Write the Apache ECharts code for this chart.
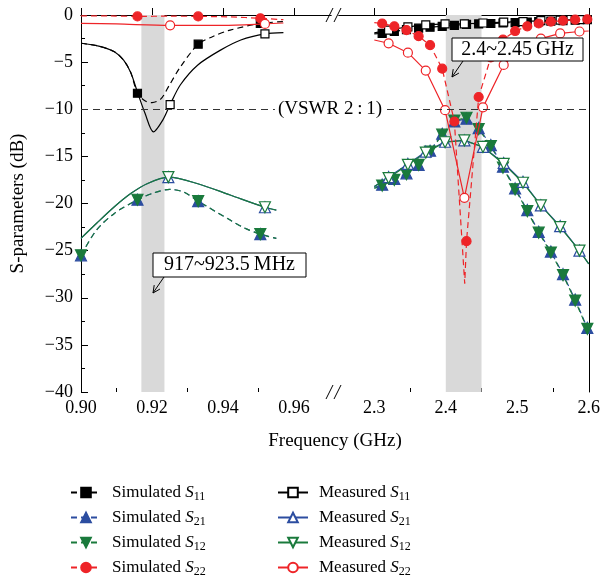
<!DOCTYPE html>
<html>
<head>
<meta charset="utf-8">
<script src="https://cdn.jsdelivr.net/npm/echarts@6/dist/echarts.min.js"></script>
<style>
  html, body {margin:0; padding:0; background:#fff;}
  #main {width:603px; height:584px;}
</style>
</head>
<body>
<div id="main"></div>
<script>
// frequency in GHz, level in dB
// left part of the broken axis (0.90 - 0.96 GHz)
var simS11L = [[0.900,-3.0],[0.905,-3.3],[0.9094,-3.9],[0.912,-4.8],[0.914,-6.1],[0.918,-9.1],[0.920,-9.3],[0.9225,-8.9],[0.9248,-7.5],[0.928,-5.5],[0.937,-2.3],[0.942,-1.6],[0.957,-0.7]];
var simS11LMark = [[0.9159,-8.3],[0.933,-3.1],[0.9505,-0.9]];
var measS11L = [[0.900,-3.0],[0.905,-3.3],[0.9094,-3.9],[0.912,-4.8],[0.914,-6.1],[0.9159,-8.2],[0.918,-10.4],[0.9204,-12.4],[0.9231,-11.1],[0.928,-7.4],[0.9329,-5.3],[0.9394,-3.7],[0.945,-2.65],[0.957,-1.88]];
var measS11LMark = [[0.9251,-9.5],[0.9518,-2.0]];

var simS21L = [[0.9044,-22.8],[0.9094,-21.05],[0.9206,-18.86],[0.925,-18.5],[0.929,-18.8],[0.942,-21.76],[0.946,-22.6],[0.955,-23.7]];
var simS21LMark = [[0.900,-25.5],[0.9159,-19.6],[0.933,-19.75],[0.9505,-23.25]];
var simS12L = [[0.9044,-22.8],[0.9094,-21.05],[0.9206,-18.86],[0.925,-18.5],[0.929,-18.8],[0.942,-21.76],[0.946,-22.6],[0.955,-23.7]];
var simS12LMark = [[0.900,-25.5],[0.9159,-19.6],[0.933,-19.75],[0.9505,-23.25]];
var measS21L = [[0.900,-23.7],[0.9044,-22.1],[0.9094,-20.35],[0.914,-18.95],[0.9186,-17.9],[0.9329,-17.9],[0.942,-19.1],[0.955,-20.7]];
var measS21LMark = [[0.9246,-17.2],[0.9518,-20.4]];
var measS12L = [[0.900,-23.7],[0.9044,-22.1],[0.9094,-20.35],[0.914,-18.95],[0.9186,-17.9],[0.9329,-17.9],[0.942,-19.1],[0.955,-20.7]];
var measS12LMark = [[0.9246,-17.2],[0.9518,-20.4]];

var simS22L = [[0.900,-0.1],[0.908,-0.1],[0.925,-0.12],[0.942,-0.2],[0.957,-0.5]];
var simS22LMark = [[0.9159,-0.15],[0.933,-0.15],[0.9505,-0.35]];
var measS22L = [[0.900,-0.88],[0.910,-0.95],[0.940,-1.1],[0.957,-0.85]];
var measS22LMark = [[0.9251,-1.1],[0.9518,-0.95]];

// right part (2.3 - 2.6 GHz)
var simS11R = [[2.300,-2.0]];
var simS11RMark = [[2.311,-1.95],[2.328,-1.75],[2.345,-1.55],[2.362,-1.4],[2.378,-1.3],[2.395,-1.2],[2.412,-1.1],[2.429,-1.0],[2.446,-0.95],[2.463,-0.9],[2.480,-0.85],[2.497,-0.8],[2.514,-0.75],[2.530,-0.7],[2.547,-0.65],[2.564,-0.6],[2.581,-0.55],[2.598,-0.5]];
var measS11R = [[2.300,-1.9],[2.600,-0.5]];
var measS11RMark = [[2.320,-1.6],[2.347,-1.25],[2.372,-1.05],[2.399,-0.95],[2.426,-0.95],[2.452,-0.85],[2.481,-0.75],[2.508,-0.7],[2.533,-0.6],[2.560,-0.55],[2.587,-0.5]];

var simS21R = [[2.300,-18.3],[2.600,-33.6]];
var simS21RMark = [[2.311,-18.0],[2.328,-17.4],[2.345,-16.8],[2.362,-15.9],[2.378,-14.4],[2.395,-12.6],[2.412,-11.3],[2.429,-11.0],[2.446,-12.0],[2.463,-13.8],[2.480,-16.1],[2.497,-18.4],[2.514,-20.7],[2.530,-23.0],[2.547,-25.1],[2.564,-27.5],[2.581,-30.2],[2.598,-33.2]];
var simS12R = [[2.300,-18.4],[2.600,-33.7]];
var simS12RMark = [[2.311,-18.1],[2.328,-17.5],[2.345,-16.9],[2.362,-15.9],[2.378,-14.5],[2.395,-12.7],[2.412,-11.2],[2.429,-10.9],[2.446,-12.1],[2.463,-13.9],[2.480,-16.2],[2.497,-18.5],[2.514,-20.8],[2.530,-23.1],[2.547,-25.2],[2.564,-27.6],[2.581,-30.3],[2.598,-33.3]];
var measS21R = [[2.300,-18.2],[2.600,-26.4]];
var measS21RMark = [[2.320,-17.2],[2.347,-15.8],[2.372,-14.5],[2.399,-13.45],[2.426,-13.3],[2.452,-14.0],[2.481,-15.7],[2.508,-17.7],[2.533,-20.2],[2.560,-22.4],[2.587,-25.0]];
var measS12R = [[2.300,-18.2],[2.600,-26.4]];
var measS12RMark = [[2.320,-17.3],[2.347,-15.9],[2.372,-14.6],[2.399,-13.5],[2.426,-13.3],[2.452,-14.0],[2.481,-15.8],[2.508,-17.8],[2.533,-20.2],[2.560,-22.5],[2.587,-25.0]];

var simS22R = [[2.300,-0.8],[2.4265,-28.5],[2.600,-0.4]];
var simS22RMark = [[2.311,-0.9],[2.328,-1.2],[2.345,-1.6],[2.362,-2.25],[2.378,-3.2],[2.395,-5.7],[2.412,-11.3],[2.429,-24.0],[2.446,-8.7],[2.463,-4.5],[2.480,-2.6],[2.497,-1.7],[2.514,-1.2],[2.530,-0.9],[2.547,-0.7],[2.564,-0.6],[2.581,-0.5],[2.598,-0.45]];
var measS22R = [[2.300,-2.65],[2.600,-1.7]];
var measS22RMark = [[2.320,-3.0],[2.347,-4.0],[2.372,-5.9],[2.399,-10.1],[2.426,-19.4],[2.452,-9.8],[2.481,-5.3],[2.508,-3.3],[2.533,-2.5],[2.560,-1.95],[2.587,-1.75]];

// axis ticks
var xLabelsL = [0.90, 0.92, 0.94, 0.96];
var xMinorL = [0.91, 0.93, 0.95];
var xLabelsR = [2.3, 2.4, 2.5, 2.6];
var xMinorR = [2.35, 2.45, 2.55];
var bandL = [0.917, 0.9235];
var bandR = [2.4, 2.45];
var vswr = -10;

var simNames = ['Simulated S11', 'Simulated S21', 'Simulated S12', 'Simulated S22'];
var measNames = ['Measured S11', 'Measured S21', 'Measured S12', 'Measured S22'];

var FONT = "'Liberation Serif', 'DejaVu Serif', serif";
var BLUE = '#2c4da0', GREEN = '#1a7a3c', RED = '#ee2428';

var sty = {
  'Simulated S11': {c: '#000', dash: true, sym: 'rect', size: 8, fill: '#000'},
  'Simulated S21': {c: BLUE, dash: true, sym: 'triangle', size: 11, fill: BLUE},
  'Simulated S12': {c: GREEN, dash: true, sym: 'triangle', size: 11, fill: GREEN, rot: 180},
  'Simulated S22': {c: RED, dash: true, sym: 'circle', size: 9, fill: RED, z: 4},
  'Measured S11': {c: '#000', dash: false, sym: 'rect', size: 8, fill: '#fff'},
  'Measured S21': {c: BLUE, dash: false, sym: 'triangle', size: 11, fill: '#fff'},
  'Measured S12': {c: GREEN, dash: false, sym: 'triangle', size: 11, fill: '#fff', rot: 180},
  'Measured S22': {c: RED, dash: false, sym: 'circle', size: 9, fill: '#fff', z: 4}
};

function pts(line, mark) {
  var d = line.map(function (p) { return {value: p, symbol: 'none'}; })
    .concat(mark.map(function (p) { return {value: p}; }));
  d.sort(function (a, b) { return a.value[0] - b.value[0]; });
  return d;
}

function mk(name, right, line, mark) {
  var s = sty[name];
  return {
    name: name, type: 'line',
    xAxisIndex: right ? 3 : 0, yAxisIndex: right ? 1 : 0,
    data: pts(line, mark),
    smooth: right ? false : 0.3,
    symbol: s.sym, symbolSize: s.size, symbolRotate: s.rot || 0,
    showAllSymbol: true, clip: true, z: s.z || 3,
    lineStyle: {color: s.c, width: 1.2, type: s.dash ? [6, 4] : 'solid'},
    itemStyle: {color: s.fill, borderColor: s.c, borderWidth: 1.2},
    emphasis: {disabled: true}
  };
}

function deco(right, band) {
  return {
    type: 'line', data: [], silent: true,
    xAxisIndex: right ? 3 : 0, yAxisIndex: right ? 1 : 0,
    markArea: {silent: true, itemStyle: {color: '#d9d9d9'}, data: [[{xAxis: band[0]}, {xAxis: band[1]}]]},
    markLine: {silent: true, symbol: 'none', label: {show: false},
      lineStyle: {color: '#333', width: 1, type: [7, 5]}, data: [{yAxis: vswr}]}
  };
}

function xMain(grid, min, max, labels, digits) {
  return {
    type: 'value', gridIndex: grid, position: 'bottom', min: min, max: max,
    axisLine: {show: true, lineStyle: {color: '#000', width: 1}},
    axisTick: {show: true, inside: true, length: 7, customValues: labels, lineStyle: {color: '#000'}},
    axisLabel: {customValues: labels, margin: 7, color: '#000', fontFamily: FONT, fontSize: 18,
      formatter: function (v) { return v.toFixed(digits); }},
    splitLine: {show: false}
  };
}
function xMinor(grid, min, max, ticks) {
  return {
    type: 'value', gridIndex: grid, position: 'bottom', min: min, max: max,
    axisLine: {show: false},
    axisTick: {show: true, inside: true, length: 4, customValues: ticks, lineStyle: {color: '#000'}},
    axisLabel: {show: false}, splitLine: {show: false}
  };
}
function xTop(grid, min, max) {
  return {
    type: 'value', gridIndex: grid, position: 'top', min: min, max: max,
    axisLine: {show: true, lineStyle: {color: '#000', width: 1}},
    axisTick: {show: false}, axisLabel: {show: false}, splitLine: {show: false}
  };
}

function legendCfg(names, left) {
  return {
    data: names, orient: 'vertical', left: left, top: 484, padding: 0,
    itemWidth: 30, itemHeight: 12, itemGap: 6, selectedMode: false,
    formatter: function (n) {
      var p = n.split(' ');
      return '{t|' + p[0] + ' }{s|S}{b|' + p[1].slice(1) + '}';
    },
    textStyle: {
      rich: {
        t: {fontFamily: FONT, fontSize: 17, color: '#000', padding: [0, 0, 0, 6]},
        s: {fontFamily: FONT, fontSize: 17, color: '#000', fontStyle: 'italic'},
        b: {fontFamily: FONT, fontSize: 12, color: '#000', padding: [9, 0, 0, 0]}
      }
    }
  };
}

function arrow(x1, y1, x2, y2) {
  var a = Math.atan2(y2 - y1, x2 - x1), L = 8, w = 0.45;
  var st = {stroke: '#000', lineWidth: 1, fill: null};
  return [
    {type: 'line', z: 100, shape: {x1: x1, y1: y1, x2: x2, y2: y2}, style: st},
    {type: 'polyline', z: 100, style: st, shape: {points: [
      [x2 - L * Math.cos(a - w), y2 - L * Math.sin(a - w)], [x2, y2],
      [x2 - L * Math.cos(a + w), y2 - L * Math.sin(a + w)]]}}
  ];
}
function slash(x, y) {
  return {type: 'line', z: 100, shape: {x1: x, y1: y + 7, x2: x + 7, y2: y - 7},
    style: {stroke: '#000', lineWidth: 1}};
}
function box(x, y, w, h, text) {
  return [
    {type: 'rect', z: 100, shape: {x: x, y: y, width: w, height: h},
      style: {fill: '#fff', stroke: '#000', lineWidth: 1}},
    {type: 'text', z: 101, x: x + w / 2, y: y + h / 2,
      style: {text: text, fill: '#000', font: '20px ' + FONT, textAlign: 'center', textVerticalAlign: 'middle'}}
  ];
}

var minL = 0.90, maxL = 0.9704, minR = 2.2506, maxR = 2.6;

var series = [
  deco(false, bandL), deco(true, bandR),
  mk('Simulated S11', false, simS11L, simS11LMark),
  mk('Simulated S21', false, simS21L, simS21LMark),
  mk('Simulated S12', false, simS12L, simS12LMark),
  mk('Simulated S22', false, simS22L, simS22LMark),
  mk('Measured S11', false, measS11L, measS11LMark),
  mk('Measured S21', false, measS21L, measS21LMark),
  mk('Measured S12', false, measS12L, measS12LMark),
  mk('Measured S22', false, measS22L, measS22LMark),
  mk('Simulated S11', true, simS11R, simS11RMark),
  mk('Simulated S21', true, simS21R, simS21RMark),
  mk('Simulated S12', true, simS12R, simS12RMark),
  mk('Simulated S22', true, simS22R, simS22RMark),
  mk('Measured S11', true, measS11R, measS11RMark),
  mk('Measured S21', true, measS21R, measS21RMark),
  mk('Measured S12', true, measS12R, measS12RMark),
  mk('Measured S22', true, measS22R, measS22RMark)
];

var graphic = [].concat(
  [slash(326, 392), slash(334, 392), slash(326, 15), slash(334, 15)],
  [{type: 'text', z: 100, x: 330, y: 109,
    style: {text: '(VSWR 2\u2009:\u20091)', fill: '#000', font: '19px ' + FONT,
      textAlign: 'center', textVerticalAlign: 'middle', backgroundColor: '#fff', padding: [0, 3]}}],
  [{type: 'text', z: 100, x: 335, y: 441,
    style: {text: 'Frequency (GHz)', fill: '#000', font: '19px ' + FONT,
      textAlign: 'center', textVerticalAlign: 'middle'}}],
  box(153, 253, 153, 24, '917~923.5\u2009MHz'),
  arrow(164, 277, 153, 293),
  box(452, 38, 131, 23, '2.4~2.45\u2009GHz'),
  arrow(463, 61, 452, 77)
);

var myChart = echarts.init(document.getElementById('main'));
var option = {
  animation: false,
  backgroundColor: '#fff',
  grid: [
    {left: 81, top: 15, width: 250, height: 377},
    {left: 339, top: 15, width: 251, height: 377}
  ],
  xAxis: [
    xMain(0, minL, maxL, xLabelsL, 2), xMinor(0, minL, maxL, xMinorL), xTop(0, minL, maxL),
    xMain(1, minR, maxR, xLabelsR, 1), xMinor(1, minR, maxR, xMinorR), xTop(1, minR, maxR)
  ],
  yAxis: [
    {type: 'value', gridIndex: 0, position: 'left', min: -40, max: 0, interval: 5,
      name: 'S-parameters (dB)', nameLocation: 'middle', nameGap: 53,
      nameTextStyle: {color: '#000', fontFamily: FONT, fontSize: 19},
      axisLine: {show: true, lineStyle: {color: '#000', width: 1}},
      axisTick: {show: true, inside: true, length: 7, lineStyle: {color: '#000'}},
      minorTick: {show: true, splitNumber: 2, length: 4, lineStyle: {color: '#000'}},
      axisLabel: {color: '#000', fontFamily: FONT, fontSize: 18, margin: 8,
        formatter: function (v) { return v < 0 ? '\u2212' + Math.abs(v) : String(v); }},
      splitLine: {show: false}},
    {type: 'value', gridIndex: 1, position: 'right', min: -40, max: 0, interval: 5,
      axisLine: {show: true, lineStyle: {color: '#000', width: 1}},
      axisTick: {show: false}, axisLabel: {show: false}, splitLine: {show: false}}
  ],
  legend: [legendCfg(simNames, 70), legendCfg(measNames, 277)],
  graphic: graphic,
  series: series
};
myChart.setOption(option);
</script>
</body>
</html>
